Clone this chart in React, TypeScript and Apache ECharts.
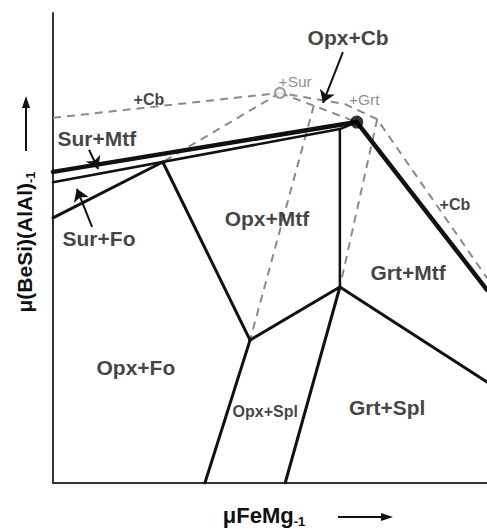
import { useEffect, useRef } from 'react';
import * as echarts from 'echarts';

const FONT = '"Liberation Sans", Arial, Helvetica, sans-serif';

// Stable reaction boundaries, in relative chemical-potential units (0–100 on both axes)
const surMtfTop: number[][] = [[0, 66.2], [70.0, 76.8]];
const surMtfBase: number[][] = [[0, 64.0], [66.1, 75.3], [70.0, 76.8]];
const surFoBase: number[][] = [[0, 56.4], [25.3, 68.3]];
const opxFoMtf: number[][] = [[25.3, 68.3], [45.4, 30.4]];
const opxSplMtf: number[][] = [[45.4, 30.4], [66.1, 41.7]];
const opxFoSpl: number[][] = [[45.4, 30.4], [35.0, 0]];
const opxGrtSpl: number[][] = [[66.1, 41.7], [53.5, 0]];
const grtSplMtf: number[][] = [[66.1, 41.7], [100, 21.5]];
const grtCbMtf: number[][] = [[70.0, 76.8], [100, 41.1]];
const opxGrtMtf: number[][] = [[66.1, 75.3], [66.1, 41.7]];

// Metastable extensions (dashed)
const cbExtension: number[][] = [[0, 77.7], [52.3, 83.0], [67.3, 80.6], [74.7, 77.4], [100, 43.6]];
const surExtension: number[][] = [[52.3, 83.0], [25.3, 68.3]];
const opxCbExtension: number[][] = [[52.3, 83.0], [70.0, 76.8]];
const grtExtensionA: number[][] = [[60.1, 80.3], [45.4, 30.4]];
const grtExtensionB: number[][] = [[74.7, 77.4], [66.1, 41.7]];

// Invariant points
const surPoint: number[] = [52.3, 83.0];
const cbPoint: number[] = [70.0, 76.8];

// Field labels
const fieldNames = ['Opx+Cb', 'Sur+Mtf', 'Sur+Fo', 'Opx+Mtf', 'Grt+Mtf', 'Opx+Fo', 'Grt+Spl'];
const fieldPos: number[][] = [[68.0, 94.7], [10.1, 73.4], [10.6, 52.1], [49.3, 56.2], [81.8, 44.7], [19.1, 24.5], [77.0, 16.0]];
const smallNames = ['+Cb', '+Cb', 'Opx+Spl'];
const smallPos: number[][] = [[22.1, 81.7], [92.6, 59.2], [48.9, 15.3]];
const greyNames = ['+Sur', '+Grt'];
const greyPos: number[][] = [[55.8, 85.5], [71.7, 81.5]];

// Leader arrows from labels to narrow fields
const leaders: number[][][] = [
  [[66.8, 91.7], [62.2, 80.9]],
  [[8.3, 70.9], [10.4, 66.8]],
  [[9.0, 54.5], [5.5, 62.6]],
];

const solid = (data: number[][], width: number) => ({
  type: 'line',
  data,
  showSymbol: false,
  symbol: 'none',
  silent: true,
  z: 3,
  lineStyle: { color: '#111', width, type: 'solid', cap: 'round', join: 'round' },
});

const dashed = (data: number[][]) => ({
  type: 'line',
  data,
  showSymbol: false,
  symbol: 'none',
  silent: true,
  z: 2,
  lineStyle: { color: '#8a8a8a', width: 2, type: [8, 6] },
});

const labelSeries = (names: string[], pos: number[][], size: number, color: string, weight: string) => ({
  type: 'scatter',
  symbolSize: 1,
  silent: true,
  z: 6,
  itemStyle: { color: 'rgba(0,0,0,0)' },
  data: names.map((n, i) => ({ name: n, value: pos[i] })),
  label: {
    show: true,
    position: 'inside',
    formatter: '{b}',
    fontFamily: FONT,
    fontSize: size,
    fontWeight: weight,
    color,
  },
});

export default function App() {
  const ref = useRef<HTMLDivElement>(null);

  useEffect(() => {
    if (!ref.current) return;
    const chart = echarts.init(ref.current, undefined, { renderer: 'svg' });
    const axisCommon = {
      type: 'value',
      min: 0,
      max: 100,
      axisLine: { show: true, lineStyle: { color: '#333', width: 2 } },
      axisTick: { show: false },
      axisLabel: { show: false },
      splitLine: { show: false },
    };
    chart.setOption({
      animation: false,
      backgroundColor: '#fff',
      grid: { left: 53, top: 13, right: 0, bottom: 46 },
      xAxis: axisCommon,
      yAxis: axisCommon,
      series: [
        dashed(cbExtension),
        dashed(surExtension),
        dashed(opxCbExtension),
        dashed(grtExtensionA),
        dashed(grtExtensionB),
        {
          ...solid(surMtfTop, 4.5),
          markLine: {
            silent: true,
            symbol: ['none', 'arrow'],
            symbolSize: 12,
            label: { show: false },
            emphasis: { disabled: true },
            lineStyle: { color: '#111', width: 2, type: 'solid' },
            itemStyle: { color: '#111' },
            data: leaders.map((l) => [{ coord: l[0] }, { coord: l[1] }]),
          },
        },
        solid(surMtfBase, 2.5),
        solid(surFoBase, 3),
        solid(opxFoMtf, 3),
        solid(opxSplMtf, 3),
        solid(opxFoSpl, 3),
        solid(opxGrtSpl, 3),
        solid(grtSplMtf, 3),
        solid(grtCbMtf, 4.5),
        solid(opxGrtMtf, 2.5),
        {
          type: 'scatter',
          silent: true,
          z: 5,
          symbol: 'circle',
          symbolSize: 10,
          itemStyle: { color: '#fff', borderColor: '#808080', borderWidth: 2 },
          data: [surPoint],
        },
        {
          type: 'scatter',
          silent: true,
          z: 5,
          symbol: 'circle',
          symbolSize: 13,
          itemStyle: { color: '#000' },
          data: [cbPoint],
        },
        labelSeries(fieldNames, fieldPos, 21, '#111', 'bold'),
        labelSeries(smallNames, smallPos, 16, '#111', 'bold'),
        labelSeries(greyNames, greyPos, 15.5, '#707070', 'normal'),
      ],
      graphic: [
        {
          type: 'text',
          x: 24,
          y: 242,
          rotation: Math.PI / 2,
          style: {
            text: '{m|μ(BeSi)(AlAl)}{s|-1}',
            align: 'center',
            verticalAlign: 'middle',
            rich: {
              m: { fontFamily: FONT, fontSize: 21, fontWeight: 'bold', fill: '#111', lineHeight: 26 },
              s: { fontFamily: FONT, fontSize: 13, fontWeight: 'bold', fill: '#111', verticalAlign: 'bottom' },
            },
          },
        },
        { type: 'line', shape: { x1: 26, y1: 151, x2: 26, y2: 104 }, style: { stroke: '#111', lineWidth: 2 } },
        { type: 'polygon', shape: { points: [[26, 96], [22, 108], [30, 108]] }, style: { fill: '#111' } },
        {
          type: 'text',
          x: 264,
          y: 515,
          style: {
            text: '{m|μFeMg}{s|-1}',
            align: 'center',
            verticalAlign: 'middle',
            rich: {
              m: { fontFamily: FONT, fontSize: 22, fontWeight: 'bold', fill: '#111', lineHeight: 26 },
              s: { fontFamily: FONT, fontSize: 13, fontWeight: 'bold', fill: '#111', verticalAlign: 'bottom' },
            },
          },
        },
        { type: 'line', shape: { x1: 338, y1: 517, x2: 384, y2: 517 }, style: { stroke: '#111', lineWidth: 2 } },
        { type: 'polygon', shape: { points: [[393, 517], [381, 513], [381, 521]] }, style: { fill: '#111' } },
      ],
    });
    return () => chart.dispose();
  }, []);

  return <div ref={ref} style={{ position: 'fixed', left: 0, top: 0, width: 487, height: 529 }} />;
}
